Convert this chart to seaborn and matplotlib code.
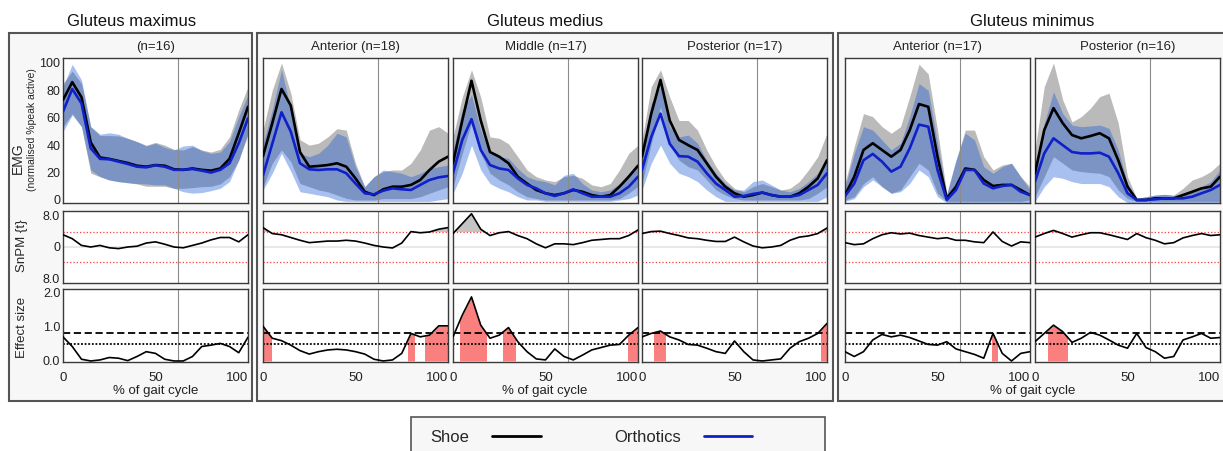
import matplotlib
matplotlib.use('Agg')
import numpy as np
import matplotlib.pyplot as plt
from matplotlib.patches import Rectangle
from matplotlib.lines import Line2D
import seaborn as sns

# ---------------------------
# Data (every 5 % of gait cycle)
# ---------------------------
pct = np.arange(0, 101, 5)
toe_off = 62
t_crit = 3.8

group_titles = ["Gluteus maximus", "Gluteus medius", "Gluteus minimus"]
panel_titles = ["(n=16)", "Anterior (n=18)", "Middle (n=17)",
                "Posterior (n=17)", "Anterior (n=17)", "Posterior (n=16)"]

# Gluteus maximus
max_shoe = [73, 86, 75, 42, 31, 30, 28.5, 27, 25, 24.3, 25.5, 25, 22.4, 22, 23, 22, 21.4, 23, 30, 48.7, 68]
max_shoe_lo = [53.5, 63, 53.5, 19.5, 17, 14.6, 13.4, 12.6, 11.7, 10, 10, 10, 8.5, 8.5, 9, 9.7, 10, 11.7, 17, 29, 48.7]
max_shoe_hi = [85, 94, 85, 53.5, 47, 47, 46.7, 45, 42.6, 40, 42, 40, 37, 36.5, 39, 36.5, 35, 37, 46, 65.7, 82.7]
max_orth = [64.5, 81, 70.5, 37.7, 30, 29.7, 28, 26.3, 24.3, 23.8, 25.3, 24.3, 22, 22, 22.6, 21.4, 20, 22, 26.8, 41.4, 59.6]
max_orth_lo = [50, 62, 53.5, 22, 17, 14.6, 13.4, 12.6, 12, 11.7, 11, 11, 8.5, 6, 5, 5.4, 6.8, 8.5, 13.4, 29, 47.5]
max_orth_hi = [82.7, 99, 87.6, 53.5, 48, 49, 48, 45, 42.6, 39.4, 41.4, 38.4, 36.5, 39.4, 40, 36, 34, 35, 42.6, 60.8, 76.6]
max_snpm = [3.1, 2.1, 0.4, 0, 0.4, -0.2, -0.4, 0, 0.2, 1, 1.3, 0.7, 0, -0.2, 0.4, 1, 1.8, 2.4, 2.4, 1.3, 3.1]
max_es = [0.7, 0.42, 0.05, 0, 0.03, 0.1, 0.08, 0.01, 0.13, 0.27, 0.22, 0.05, 0, 0, 0.13, 0.42, 0.46, 0.51, 0.42, 0.24, 0.69]
max_clusters = []

# Gluteus medius - anterior
medA_shoe = [32, 56, 81, 69, 35, 24.3, 24.8, 25.5, 26.8, 24.3, 15.8, 6, 3.6, 7.8, 9.7, 9.7, 11, 14.6, 21.9, 28, 31.6]
medA_shoe_lo = [9.7, 26.8, 36.5, 28, 12, 9.7, 7.3, 6, 3.6, 1.2, 0, 0, 0, 1, 1, 1, 1, 2.4, 4.9, 7.3, 9.7]
medA_shoe_hi = [51, 80, 100, 78, 44, 40, 41.4, 46, 52, 51, 26.8, 9.7, 17, 20.7, 21.9, 21.9, 26.8, 36.5, 51, 53.5, 48.7]
medA_orth = [18, 41, 64, 50, 26.8, 22.4, 21.9, 22.4, 22.4, 19.5, 12, 4.9, 4.1, 6.8, 8.5, 7.8, 7.3, 11, 14.6, 16.5, 17.5]
medA_orth_lo = [7.3, 19.5, 34, 21, 6, 4.9, 3.6, 2.4, 0, -1, -1, -1, -1, -1, -1, -1, -1, -1, -1, 0, 1]
medA_orth_hi = [41, 65.7, 95, 66, 34, 31.6, 34, 40, 48.7, 46, 24.3, 9.7, 17, 21.9, 20.7, 19.5, 17, 19.5, 23, 24.3, 25.5]
medA_snpm = [4.9, 3.4, 3.1, 2.4, 1.7, 1.1, 1.3, 1.5, 1.5, 1.7, 1.5, 1, 0.4, 0, -0.25, 1, 3.9, 3.6, 3.8, 4.5, 4.9]
medA_es = [1.01, 0.66, 0.59, 0.46, 0.3, 0.2, 0.27, 0.32, 0.34, 0.32, 0.27, 0.2, 0.05, 0, 0.03, 0.22, 0.8, 0.7, 0.75, 1.02, 1.02]
medA_clusters = [(0, 4.5), (78.5, 81.5), (87.5, 100)]

# Gluteus medius - middle
medM_shoe = [26.8, 58, 87, 58, 35, 31.6, 26.8, 17, 12, 7.3, 4.9, 3.6, 4.9, 7.3, 6, 3.6, 2.4, 3.6, 9.7, 17, 25]
medM_shoe_lo = [9.7, 34, 56, 34, 19.5, 14.6, 11, 6, 2.4, 1, 0, 0, 0, 0, 0, 0, 0, 0, 1, 5, 10]
medM_shoe_hi = [46, 75, 95, 75, 46, 45, 41, 31.6, 21.9, 17, 14.6, 13.4, 17, 18, 15.8, 11, 9.7, 12, 21.9, 34, 40]
medM_orth = [19.5, 43.8, 59, 36.5, 25.5, 23, 21.9, 15.8, 11, 8.5, 4.9, 2.9, 4.9, 7.8, 4.9, 2.4, 2.4, 2.4, 4.9, 9.7, 17]
medM_orth_lo = [4.9, 19.5, 40, 21.9, 12, 8.5, 6, 2.4, 0, 0, -1, -1, -1, -1, -1, -1, -1, -1, 0, 1, 3.6]
medM_orth_hi = [36.5, 65.7, 76.6, 51, 34, 31.6, 30.4, 23, 17, 14.6, 13.4, 11, 18, 19.5, 12, 7.3, 6, 7.3, 12, 19.5, 26.8]
medM_snpm = [3.4, 5.9, 8.4, 4.5, 2.9, 3.6, 3.9, 2.9, 2.1, 0.8, -0.2, 0.8, 0.8, 0.6, 1.1, 1.7, 1.9, 2.1, 2.1, 2.9, 4.3]
medM_es = [0.7, 1.33, 1.86, 1.04, 0.66, 0.75, 0.97, 0.56, 0.27, 0.06, 0.03, 0.35, 0.13, 0.03, 0.17, 0.32, 0.39, 0.46, 0.48, 0.75, 0.97]
medM_clusters = [(4, 18), (27, 33.5), (94.5, 100)]

# Gluteus medius - posterior
medP_shoe = [31.6, 63, 87.6, 58, 43.8, 40, 36.5, 26.8, 17, 9.7, 4.9, 2.4, 3.6, 5.4, 3.6, 2.4, 2.4, 4.9, 9.7, 15.8, 29]
medP_shoe_lo = [12, 41, 68, 40, 29, 24.3, 21.9, 14.6, 7.3, 3.6, 1, 0, 0, 0, 0, 0, 0, 0, 1, 4.9, 9.7]
medP_shoe_hi = [43.8, 82.7, 95, 75, 58, 58, 51, 36.5, 24.3, 14.6, 8.5, 6, 9.7, 12, 9.7, 7.3, 8.5, 13.4, 21.9, 31.6, 48.7]
medP_orth = [21.9, 46, 63, 41, 32, 31.6, 28, 19.5, 12, 7.3, 2.4, 2.9, 4.4, 5.4, 3.6, 2.4, 2.4, 3.6, 7.3, 11, 19.5]
medP_orth_lo = [7.3, 26.8, 40, 26.8, 19.5, 17, 13.4, 7.3, 2.4, -1, -1, -1, -1, -1, -1, -1, -1, -1, -1, -1, 2.4]
medP_orth_hi = [36.5, 70.5, 82.7, 53.5, 46, 47.4, 41.4, 29, 19.5, 12, 7.3, 7.3, 13.4, 14.6, 11, 7.3, 6, 8.5, 13.4, 19.5, 31.6]
medP_snpm = [3.4, 3.9, 4, 3.4, 2.9, 2.3, 2.1, 1.7, 1.4, 1.4, 2.5, 1.3, 0.25, -0.2, 0, 0.4, 1.7, 2.5, 2.8, 3.4, 4.8]
medP_es = [0.7, 0.8, 0.87, 0.7, 0.61, 0.48, 0.46, 0.37, 0.27, 0.22, 0.58, 0.27, 0.03, 0, 0.03, 0.06, 0.37, 0.56, 0.66, 0.8, 1.09]
medP_clusters = [(6.5, 12.5), (96.5, 100)]

# Gluteus minimus - anterior
minA_shoe = [3.6, 17, 36.5, 41.4, 36.5, 31.6, 36.5, 51, 70, 68, 31.6, 1.2, 9.7, 23, 22, 14.6, 10.2, 11, 11, 7.3, 3.6]
minA_shoe_lo = [0, 2.4, 12, 17, 9.7, 4.9, 7.3, 17, 26.8, 21.9, 4.9, -1, -1, -1, -1, -1, -1, -1, -1, -1, 0]
minA_shoe_hi = [12, 39, 63, 60.8, 53.5, 48.7, 53.5, 75.4, 99, 92, 51, 4.9, 29, 51, 51, 31.6, 21.9, 25.5, 26.8, 17, 9.7]
minA_orth = [2.9, 12, 29, 33.6, 28, 20.7, 24.3, 37.7, 55, 53.5, 21.9, 0, 7.3, 21.9, 21.9, 12, 8.5, 10.2, 11, 6, 3.6]
minA_orth_lo = [-1, 1, 9.7, 14.6, 9.7, 4.9, 6, 12, 21.9, 17, 2.4, -2, -2, -2, -2, -2, -2, -2, -2, -2, -2]
minA_orth_hi = [9.7, 34, 53.5, 51, 43.8, 36.5, 41.4, 60.8, 85, 80, 41.4, 3.6, 29, 48.7, 43.8, 24.3, 19.5, 24.3, 26.8, 17, 7.3]
minA_snpm = [1.1, 0.6, 0.8, 2.1, 3.1, 3.6, 3.3, 3.5, 2.9, 2.5, 2.1, 2.35, 1.7, 1.7, 1.3, 1.1, 3.8, 1.4, 0.25, 1.3, 1.1]
minA_es = [0.27, 0.13, 0.27, 0.61, 0.77, 0.7, 0.75, 0.68, 0.58, 0.48, 0.46, 0.56, 0.35, 0.27, 0.19, 0.08, 0.8, 0.22, 0, 0.22, 0.27]
minA_clusters = [(79.5, 82)]

# Gluteus minimus - posterior
minP_shoe = [19.5, 51, 67, 56, 47.4, 45, 46.7, 48.7, 45, 29, 9.7, 0, 0, 1.2, 1.2, 1.2, 3.6, 6, 8.5, 9.7, 17]
minP_shoe_lo = [2.4, 17, 31.6, 26.8, 21.9, 20.7, 20, 19.5, 17, 7.3, 1, -1, -1, -1, -1, -1, -1, -1, -1, -1, -1]
minP_shoe_hi = [36.5, 82.7, 100, 73, 57, 60.8, 67, 75.4, 77.9, 56, 17, 1.2, 2.4, 3.6, 4.1, 3.6, 8.5, 14.6, 17, 20.7, 26.8]
minP_orth = [13.4, 34, 45, 40, 35, 34, 34, 34.5, 31.6, 19.5, 4.9, 0, 0, 0.5, 1.2, 1.2, 1.2, 2.4, 4.9, 7.3, 11]
minP_orth_lo = [-1, 9.7, 17, 15.8, 13.4, 12, 12, 12, 9.7, 2.4, -2, -2, -2, -2, -2, -2, -2, -2, -2, -2, -2]
minP_orth_hi = [24.3, 56, 79, 63, 54.7, 53.5, 54, 54.7, 52.3, 36.5, 12, 1, 2.4, 3.6, 4.1, 3.2, 4.9, 7.3, 9.7, 13.4, 21.9]
minP_snpm = [2.5, 3.4, 4.2, 3.4, 2.5, 3.1, 3.6, 3.6, 3.1, 2.5, 1.9, 3.4, 2.35, 1.7, 0.8, 1.1, 2.3, 2.9, 3.4, 2.9, 3.1]
minP_es = [0.56, 0.8, 1.04, 0.85, 0.54, 0.66, 0.83, 0.75, 0.61, 0.46, 0.37, 0.8, 0.39, 0.27, 0.08, 0.13, 0.61, 0.7, 0.8, 0.66, 0.68]
minP_clusters = [(7, 17.5)]

panels = [
    (max_shoe, max_shoe_lo, max_shoe_hi, max_orth, max_orth_lo, max_orth_hi, max_snpm, max_es, max_clusters),
    (medA_shoe, medA_shoe_lo, medA_shoe_hi, medA_orth, medA_orth_lo, medA_orth_hi, medA_snpm, medA_es, medA_clusters),
    (medM_shoe, medM_shoe_lo, medM_shoe_hi, medM_orth, medM_orth_lo, medM_orth_hi, medM_snpm, medM_es, medM_clusters),
    (medP_shoe, medP_shoe_lo, medP_shoe_hi, medP_orth, medP_orth_lo, medP_orth_hi, medP_snpm, medP_es, medP_clusters),
    (minA_shoe, minA_shoe_lo, minA_shoe_hi, minA_orth, minA_orth_lo, minA_orth_hi, minA_snpm, minA_es, minA_clusters),
    (minP_shoe, minP_shoe_lo, minP_shoe_hi, minP_orth, minP_orth_lo, minP_orth_hi, minP_snpm, minP_es, minP_clusters),
]

# ---------------------------
# Styling / layout (pixels)
# ---------------------------
W, H = 1223, 451
BLUE = '#1020c8'
SPINE = '#3a3a3a'

def fx(px):
    return px / W

def fy(py):
    return 1 - py / H

lefts = [63, 263, 453, 642, 845, 1035]
pw = 185
rows = [(58, 203), (211, 283), (289, 362)]
group_boxes = [(9, 252), (257, 833), (838, 1240)]
title_centers = [131.5, 545, 1032.5]
xlabel_centers = [155.5, 545, 1032.5]

sns.set_theme(style="white")
plt.rcParams['font.family'] = ['Liberation Sans', 'DejaVu Sans']

fig = plt.figure(figsize=(W / 100, H / 100), dpi=100)
fig.patch.set_facecolor('white')

for x0, x1 in group_boxes:
    fig.add_artist(Rectangle((fx(x0), fy(401)), fx(x1) - fx(x0), fy(33) - fy(401),
                             transform=fig.transFigure, facecolor='#f7f7f7',
                             edgecolor='#555555', lw=1.5, zorder=-5))


def style_axis(ax):
    for s in ax.spines.values():
        s.set_color(SPINE)
        s.set_linewidth(1.0)
    ax.set_facecolor('white')
    ax.set_xlim(0, 100)
    ax.tick_params(length=0, colors='#222222')
    ax.axvline(toe_off, color='#8c8c8c', lw=0.8, zorder=1)
    ax.set_xlabel('')
    ax.set_ylabel('')


for i, (shoe, shoe_lo, shoe_hi, orth, orth_lo, orth_hi, snpm, es, clusters) in enumerate(panels):
    axs = [fig.add_axes([fx(lefts[i]), fy(b), pw / W, (b - t) / H]) for t, b in rows]
    ax1, ax2, ax3 = axs

    # EMG
    ax1.fill_between(pct, shoe_lo, shoe_hi, color='#a9a9a9', alpha=0.8, lw=0)
    ax1.fill_between(pct, orth_lo, orth_hi, color='#1455d6', alpha=0.37, lw=0)
    sns.lineplot(x=pct, y=shoe, ax=ax1, color='black', lw=1.9, legend=False, zorder=3)
    sns.lineplot(x=pct, y=orth, ax=ax1, color=BLUE, lw=1.9, legend=False, zorder=4)
    ax1.set_ylim(-2.2, 103.6)
    ax1.set_title(panel_titles[i], fontsize=9.5, pad=5.5, color='#222222')

    # SnPM
    snpm_arr = np.array(snpm)
    ax2.axhline(0, color='#e4e4e4', lw=1.2, zorder=0)
    ax2.fill_between(pct, t_crit, snpm_arr, where=snpm_arr > t_crit,
                     interpolate=True, color='#c4c4c4', lw=0)
    for thr in (t_crit, -t_crit):
        ax2.axhline(thr, color='#ff3b3b', ls=':', lw=0.9)
    sns.lineplot(x=pct, y=snpm, ax=ax2, color='black', lw=1.2, legend=False, zorder=3)
    ax2.set_ylim(-9.1, 9.1)

    # Effect size
    for c0, c1 in clusters:
        poly = ax3.fill_between(pct, 0, es, color='#fa7f7f', lw=0)
        poly.set_clip_path(Rectangle((c0, -1), c1 - c0, 4, transform=ax3.transData))
    ax3.axhline(0.8, color='black', ls=(0, (4, 2)), lw=1.3)
    ax3.axhline(0.5, color='black', ls=(0, (1, 1)), lw=1.3)
    sns.lineplot(x=pct, y=es, ax=ax3, color='black', lw=1.2, legend=False, zorder=3)
    ax3.set_ylim(-0.03, 2.09)

    for ax in axs:
        style_axis(ax)
        ax.set_xticks([])
        if i == 0:
            ax.tick_params(axis='y', labelsize=9, pad=2)
        else:
            ax.set_yticks([])

    ax3.set_xticks([0, 50, 100], ['0', '50', '100'])
    ax3.tick_params(axis='x', labelsize=9.5, pad=7)
    ax3.get_xticklabels()[-1].set_horizontalalignment('right')

    if i == 0:
        ax1.set_yticks([0, 20, 40, 60, 80, 100])
        ax2.set_yticks([-8, 0, 8], ['8.0', '0', '8.0'])
        ax3.set_yticks([0, 1, 2], ['0.0', '1.0', '2.0'])

# Texts
for title, cx in zip(group_titles, title_centers):
    fig.text(fx(cx), fy(26), title, ha='center', va='baseline',
             fontsize=12, color='#111111')
for cx in xlabel_centers:
    fig.text(fx(cx), fy(391), '% of gait cycle', ha='center', va='center',
             fontsize=9.5, color='#222222')

fig.text(fx(17.5), fy(158), 'EMG', rotation=90, ha='center', va='center', fontsize=10)
fig.text(fx(32), fy(130), '(normalised %peak active)', rotation=90,
         ha='center', va='center', fontsize=7.5)
fig.text(fx(22), fy(246), 'SnPM {t}', rotation=90, ha='center', va='center', fontsize=9.5)
fig.text(fx(22), fy(327), 'Effect size', rotation=90, ha='center', va='center', fontsize=9.5)

# Legend
fig.add_artist(Rectangle((fx(411), fy(470)), fx(825) - fx(411), fy(417) - fy(470),
                         transform=fig.transFigure, facecolor='#f7f7f7',
                         edgecolor='#555555', lw=1.2, zorder=-5))
handles = [Line2D([], [], color='black', lw=2), Line2D([], [], color=BLUE, lw=2)]
fig.legend(handles, ['Shoe', 'Orthotics'], ncol=2, markerfirst=False, frameon=False,
           loc='center left', bbox_to_anchor=(fx(430), fy(437)), fontsize=12,
           handlelength=2.9, handletextpad=1.4, columnspacing=4.4,
           borderpad=0, borderaxespad=0)

fig.savefig('out.png', dpi=100, facecolor='white')
